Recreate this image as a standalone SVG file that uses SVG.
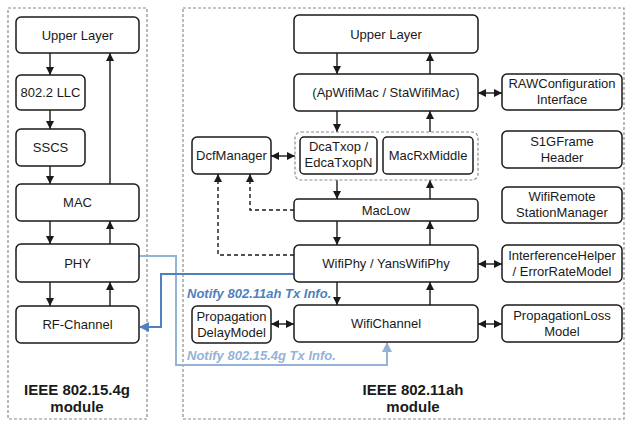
<svg xmlns="http://www.w3.org/2000/svg" width="625" height="421" viewBox="0 0 625 421">
<style>
.mod{fill:none;stroke:#8c8c8c;stroke-width:1.2;stroke-dasharray:3,2}
.grp{fill:none;stroke:#8c8c8c;stroke-width:1.2;stroke-dasharray:3,2}
.box{fill:#fff;stroke:#1a1a1a;stroke-width:1.5}
.t{font-family:"Liberation Sans",Arial,sans-serif;font-size:13px;fill:#1a1a1a;text-anchor:middle}
.mt{font-family:"Liberation Sans",Arial,sans-serif;font-size:15px;font-weight:bold;fill:#1a1a1a;text-anchor:middle}
.c{fill:none;stroke:#1a1a1a;stroke-width:1.4}
.cd{fill:none;stroke:#1a1a1a;stroke-width:1.4;stroke-dasharray:4,3}
.a{marker-end:url(#ah)}
.b{marker-start:url(#ah);marker-end:url(#ah)}
.lb{fill:none;stroke:#95b3d7;stroke-width:2}
.db{fill:none;stroke:#4f81bd;stroke-width:2}
.nt{font-family:"Liberation Sans",Arial,sans-serif;font-size:13px;font-weight:bold;font-style:italic}
</style>
<defs>
<marker id="ah" markerUnits="userSpaceOnUse" markerWidth="9" markerHeight="9" refX="8" refY="4" orient="auto-start-reverse"><path d="M0,0 L8,4 L0,8 z" fill="#1a1a1a"/></marker>
<marker id="ahl" markerUnits="userSpaceOnUse" markerWidth="11" markerHeight="11" refX="9" refY="5" orient="auto"><path d="M0,0 L10,5 L0,10 z" fill="#95b3d7"/></marker>
<marker id="ahd" markerUnits="userSpaceOnUse" markerWidth="11" markerHeight="11" refX="9" refY="5" orient="auto"><path d="M0,0 L10,5 L0,10 z" fill="#4f81bd"/></marker>
</defs>
<rect class="mod" x="8" y="8" width="139" height="411"/>
<rect class="mod" x="183" y="8" width="441" height="411"/>
<g id="connectors">
<path class="c a" d="M50,53 V75"/>
<path class="c a" d="M50,110 V129"/>
<path class="c a" d="M50,166 V184"/>
<path class="c a" d="M50,221 V244"/>
<path class="c a" d="M50,282 V306"/>
<path class="c a" d="M110,184 V53"/>
<path class="c a" d="M110,244 V221"/>
<path class="c a" d="M110,306 V282"/>
<path class="c a" d="M337,53 V74"/>
<path class="c a" d="M337,111 V132"/>
<path class="c a" d="M337,180 V199"/>
<path class="c a" d="M337,221 V245"/>
<path class="c a" d="M337,282 V305"/>
<path class="c a" d="M430,74 V53"/>
<path class="c a" d="M430,132 V111"/>
<path class="c a" d="M430,199 V180"/>
<path class="c a" d="M430,245 V221"/>
<path class="c a" d="M430,305 V282"/>
<path class="c b" d="M478,93 H502"/>
<path class="c b" d="M271,156 H295"/>
<path class="c b" d="M478,264 H502"/>
<path class="c b" d="M271,324 H294"/>
<path class="c b" d="M478,324 H502"/>
<path class="cd a" d="M294,210 H250 V174"/>
<path class="cd a" d="M294,255 H218 V174"/>
<path class="lb" d="M139,256 H176 V365 H387 V343" marker-end="url(#ahl)"/>
<path class="db" d="M294,274 H161 V327 H140" marker-end="url(#ahd)"/>
<text class="nt" x="187" y="298" fill="#4f81bd">Notify 802.11ah Tx Info.</text>
<text class="nt" x="187" y="360" fill="#95b3d7">Notify 802.15.4g Tx Info.</text>
</g>
<g id="l-upper"><rect class="box" x="16" y="17" width="123" height="36" rx="5"/><text class="t" x="77.5" y="39.5">Upper Layer</text></g>
<g id="l-llc"><rect class="box" x="16" y="75" width="69" height="35" rx="5"/><text class="t" x="50.5" y="97">802.2 LLC</text></g>
<g id="l-sscs"><rect class="box" x="16" y="129" width="69" height="37" rx="5"/><text class="t" x="50.5" y="152">SSCS</text></g>
<g id="l-mac"><rect class="box" x="16" y="184" width="123" height="37" rx="5"/><text class="t" x="77.5" y="207">MAC</text></g>
<g id="l-phy"><rect class="box" x="16" y="244" width="123" height="38" rx="5"/><text class="t" x="77.5" y="267.5">PHY</text></g>
<g id="l-rf"><rect class="box" x="16" y="306" width="123" height="37" rx="5"/><text class="t" x="77.5" y="329">RF-Channel</text></g>
<g id="l-label"><text class="mt" x="77" y="395">IEEE 802.15.4g</text><text class="mt" x="77" y="412">module</text></g>
<g id="r-upper"><rect class="box" x="294" y="15" width="184" height="38" rx="5"/><text class="t" x="386" y="38.5">Upper Layer</text></g>
<g id="r-wifimac"><rect class="box" x="294" y="74" width="184" height="37" rx="5"/><text class="t" x="386" y="97">(ApWifiMac / StaWifiMac)</text></g>
<g id="r-group"><rect class="grp" x="295" y="132" width="183" height="48" rx="6"/></g>
<g id="r-dcatxop"><rect class="box" x="300" y="137" width="77" height="37" rx="4"/><text class="t" x="338.5" y="151">DcaTxop /</text><text class="t" x="338.5" y="167">EdcaTxopN</text></g>
<g id="r-macrx"><rect class="box" x="383" y="137" width="90" height="37" rx="4"/><text class="t" x="428" y="160">MacRxMiddle</text></g>
<g id="r-dcf"><rect class="box" x="192" y="137" width="79" height="37" rx="5"/><text class="t" x="231.5" y="160">DcfManager</text></g>
<g id="r-maclow"><rect class="box" x="294" y="199" width="184" height="22" rx="4"/><text class="t" x="386" y="214.5">MacLow</text></g>
<g id="r-wifiphy"><rect class="box" x="294" y="245" width="184" height="37" rx="5"/><text class="t" x="386" y="268">WifiPhy / YansWifiPhy</text></g>
<g id="r-wifichannel"><rect class="box" x="294" y="305" width="184" height="37" rx="5"/><text class="t" x="386" y="328">WifiChannel</text></g>
<g id="r-propdelay"><rect class="box" x="192" y="306" width="79" height="37" rx="5"/><text class="t" x="231.5" y="321">Propagation</text><text class="t" x="231.5" y="337">DelayModel</text></g>
<g id="r-raw"><rect class="box" x="502" y="74" width="120" height="36" rx="5"/><text class="t" x="562" y="88">RAWConfiguration</text><text class="t" x="562" y="104">Interface</text></g>
<g id="r-s1g"><rect class="box" x="502" y="131" width="120" height="37" rx="5"/><text class="t" x="562" y="146">S1GFrame</text><text class="t" x="562" y="162">Header</text></g>
<g id="r-remote"><rect class="box" x="502" y="187" width="120" height="36" rx="5"/><text class="t" x="562" y="201">WifiRemote</text><text class="t" x="562" y="217">StationManager</text></g>
<g id="r-interf"><rect class="box" x="502" y="245" width="120" height="37" rx="5"/><text class="t" x="562" y="260">InterferenceHelper</text><text class="t" x="562" y="276">/ ErrorRateModel</text></g>
<g id="r-proploss"><rect class="box" x="502" y="305" width="120" height="37" rx="5"/><text class="t" x="562" y="320">PropagationLoss</text><text class="t" x="562" y="336">Model</text></g>
<g id="r-label"><text class="mt" x="413" y="395">IEEE 802.11ah</text><text class="mt" x="413" y="412">module</text></g>
</svg>
